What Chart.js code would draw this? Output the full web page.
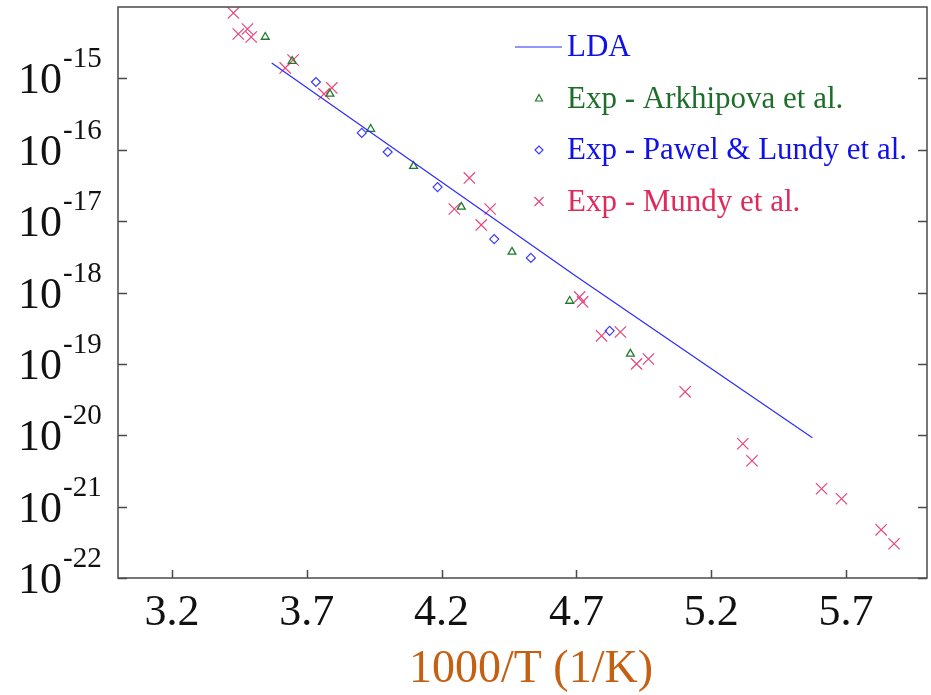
<!DOCTYPE html>
<html>
<head>
<meta charset="utf-8">
<script src="https://cdn.jsdelivr.net/npm/chart.js@4.4.0/dist/chart.umd.min.js"></script>
<style>
  html, body { margin: 0; padding: 0; background: #fff; overflow: hidden; }
</style>
</head>
<body>
<canvas id="diffChart" width="931" height="695"></canvas>
<script>
// axis ticks
const xTicks = [3.2, 3.7, 4.2, 4.7, 5.2, 5.7];
const yExponents = [-15, -16, -17, -18, -19, -20, -21, -22];

// LDA curve
const ldaX = [3.57, 4.70, 5.575];
const ldaY = [1.64e-15, 1.67e-18, 9.2e-21];

// Exp - Arkhipova et al.
const arkX = [3.546, 3.646, 3.786, 3.937, 4.096, 4.273, 4.461, 4.675, 4.900];
const arkY = [3.8e-15, 1.75e-15, 6.05e-16, 1.95e-16, 5.9e-17, 1.58e-17, 3.7e-18, 7.6e-19, 1.38e-19];

// Exp - Pawel & Lundy et al.
const pawX = [3.734, 3.904, 4.000, 4.185, 4.395, 4.531, 4.823];
const pawY = [8.9e-16, 1.72e-16, 9.3e-17, 3.0e-17, 5.6e-18, 3.05e-18, 2.9e-19];

// Exp - Mundy et al.
const munX = [3.428, 3.446, 3.480, 3.494, 3.620, 3.649, 3.764, 3.793, 4.303, 4.247, 4.380, 4.347,
              4.712, 4.723, 4.793, 4.863, 4.923, 4.967, 5.103, 5.317, 5.351, 5.609, 5.683, 5.830, 5.878];
const munY = [8.24e-15, 4.19e-15, 4.92e-15, 3.8e-15, 1.4e-15, 1.81e-15, 6.05e-16, 7.35e-16, 4.03e-17, 1.48e-17, 1.48e-17, 8.85e-18,
              8.67e-19, 7.38e-19, 2.47e-19, 2.8e-19, 1.0e-19, 1.17e-19, 4.06e-20, 7.6e-21, 4.39e-21, 1.78e-21, 1.29e-21, 4.73e-22, 3.02e-22];

const toPoints = (xs, ys) => xs.map((v, i) => ({ x: v, y: ys[i] }));

const SERIF = '"Liberation Serif", "Times New Roman", serif';

// frame, inward ticks, tick labels and axis title
const axesPlugin = {
    id: 'axesPlugin',
    afterDraw(chart) {
        const { ctx, chartArea: a, scales: { x, y } } = chart;
        ctx.save();
        ctx.strokeStyle = '#4a4a4a';
        ctx.lineWidth = 1.5;
        ctx.strokeRect(a.left, a.top, a.right - a.left, a.bottom - a.top);

        ctx.beginPath();
        xTicks.forEach(v => {
            const px = Math.round(x.getPixelForValue(v)) + 0.5;
            ctx.moveTo(px, a.bottom);
            ctx.lineTo(px, a.bottom - 8);
        });
        yExponents.forEach(e => {
            const py = Math.round(y.getPixelForValue(Math.pow(10, e))) + 0.5;
            ctx.moveTo(a.left, py);
            ctx.lineTo(a.left + 9, py);
            ctx.moveTo(a.right, py);
            ctx.lineTo(a.right - 9, py);
        });
        ctx.stroke();

        ctx.fillStyle = '#111';
        ctx.textAlign = 'center';
        ctx.textBaseline = 'middle';
        ctx.font = '44px ' + SERIF;
        xTicks.forEach(v => {
            ctx.fillText(v.toFixed(1), x.getPixelForValue(v), a.bottom + 35);
        });

        ctx.textBaseline = 'alphabetic';
        yExponents.forEach(e => {
            const py = y.getPixelForValue(Math.pow(10, e));
            ctx.textAlign = 'right';
            ctx.font = '44px ' + SERIF;
            ctx.fillText('10', 62, py + 15);
            ctx.textAlign = 'left';
            ctx.font = '29px ' + SERIF;
            ctx.fillText('-' + Math.abs(e), 63, py - 11);
        });

        ctx.fillStyle = '#c55f12';
        ctx.textAlign = 'center';
        ctx.textBaseline = 'middle';
        ctx.font = '46px ' + SERIF;
        ctx.fillText('1000/T (1/K)', 531, a.bottom + 92);
        ctx.restore();
    }
};

// legend inside the plot, top right
const legendPlugin = {
    id: 'legendPlugin',
    afterDraw(chart) {
        const { ctx, chartArea: a } = chart;
        ctx.save();
        ctx.font = '31px ' + SERIF;
        ctx.textBaseline = 'middle';
        ctx.textAlign = 'left';
        chart.data.datasets.forEach((ds, i) => {
            const cy = a.top + 40 + i * 51.5;
            const mx = 539;
            ctx.strokeStyle = ds.borderColor;
            ctx.lineWidth = 1.2;
            ctx.beginPath();
            if (ds.showLine) {
                ctx.moveTo(515, cy);
                ctx.lineTo(562, cy);
            } else if (ds.pointStyle === 'triangle') {
                ctx.moveTo(mx, cy - 4);
                ctx.lineTo(mx + 3.5, cy + 2.5);
                ctx.lineTo(mx - 3.5, cy + 2.5);
                ctx.closePath();
            } else if (ds.pointStyle === 'rectRot') {
                ctx.moveTo(mx - 4, cy);
                ctx.lineTo(mx, cy - 4);
                ctx.lineTo(mx + 4, cy);
                ctx.lineTo(mx, cy + 4);
                ctx.closePath();
            } else {
                ctx.moveTo(mx - 4.5, cy - 4.5);
                ctx.lineTo(mx + 4.5, cy + 4.5);
                ctx.moveTo(mx + 4.5, cy - 4.5);
                ctx.lineTo(mx - 4.5, cy + 4.5);
            }
            ctx.stroke();
            ctx.fillStyle = ds.textColor;
            ctx.fillText(ds.label, 567, cy + 1);
        });
        ctx.restore();
    }
};

const ctx = document.getElementById('diffChart').getContext('2d');
const diffChart = new Chart(ctx, {
    type: 'scatter',
    data: {
        datasets: [
            {
                label: 'LDA',
                data: toPoints(ldaX, ldaY),
                showLine: true,
                borderColor: '#2b2bff',
                textColor: '#1010e8',
                borderWidth: 1.2,
                pointRadius: 0,
                tension: 0
            },
            {
                label: 'Exp - Arkhipova et al.',
                data: toPoints(arkX, arkY),
                pointStyle: 'triangle',
                pointRadius: 4.5,
                borderColor: '#1f7a2c',
                textColor: '#1d6e2a',
                backgroundColor: 'rgba(0,0,0,0)',
                borderWidth: 1.3
            },
            {
                label: 'Exp - Pawel & Lundy et al.',
                data: toPoints(pawX, pawY),
                pointStyle: 'rectRot',
                pointRadius: 4.5,
                borderColor: '#3a3aff',
                textColor: '#1010e8',
                backgroundColor: 'rgba(0,0,0,0)',
                borderWidth: 1.2
            },
            {
                label: 'Exp - Mundy et al.',
                data: toPoints(munX, munY),
                pointStyle: 'crossRot',
                pointRadius: 8,
                borderColor: '#e8457a',
                textColor: '#e02a5c',
                backgroundColor: 'rgba(0,0,0,0)',
                borderWidth: 1.2
            }
        ]
    },
    options: {
        responsive: false,
        animation: false,
        layout: {
            autoPadding: false,
            padding: { left: 118, top: 7, right: 4, bottom: 117 }
        },
        scales: {
            x: {
                type: 'linear',
                min: 3.0,
                max: 6.0,
                display: false
            },
            y: {
                type: 'logarithmic',
                min: 1e-22,
                max: 1e-14,
                display: false
            }
        },
        plugins: {
            legend: { display: false },
            tooltip: { enabled: false }
        }
    },
    plugins: [axesPlugin, legendPlugin]
});
</script>
</body>
</html>
